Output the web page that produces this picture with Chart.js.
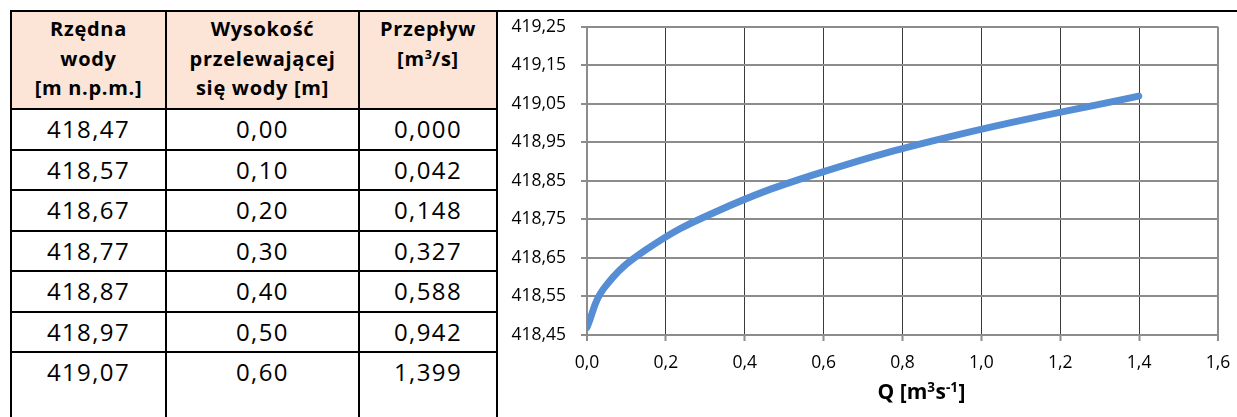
<!DOCTYPE html>
<html lang="pl">
<head>
<meta charset="utf-8">
<title>Krzywa przepływu przelewu</title>
<script src="https://cdn.jsdelivr.net/npm/chart.js@4.4.1/dist/chart.umd.min.js"></script>
<style>
  html, body { margin: 0; padding: 0; background: #fff; }
  body {
    width: 1237px; height: 417px; overflow: hidden; position: relative;
    font-family: "Open Sans", "Noto Sans", sans-serif; color: #000;
  }
  #frameTop { position: absolute; left: 10px; top: 10px; width: 1227px; height: 2px; background: #000; }
  #tabela {
    position: absolute; left: 10px; top: 10px;
    display: grid;
    grid-template-columns: 155px 193px 138px;
    grid-template-rows: 98px repeat(6, 40.5px) 80px;
    border-left: 2px solid #000; border-top: 2px solid #000;
  }
  #tabela > div {
    box-sizing: border-box;
    border-right: 2px solid #000; border-bottom: 2px solid #000;
    text-align: center; overflow: hidden;
  }
  #tabela > .nag {
    background: #fce4d6; font-weight: 700; font-size: 20px; line-height: 29.5px;
    padding-top: 2px; letter-spacing: 0.7px;
  }
  #tabela > .nag sup { font-size: 12.5px; line-height: 0; vertical-align: 7px; letter-spacing: 0; }
  #tabela > .war {
    font-size: 24px; line-height: 31px; padding-top: 3px; letter-spacing: 1.4px;
  }
  #wykres { position: absolute; left: 498px; top: 12px; width: 739px; height: 405px; }
  #wykres canvas { display: block; }
</style>
</head>
<body>
<div id="frameTop"></div>
<div id="tabela"></div>
<div id="wykres"><canvas id="krzywa" width="739" height="405"></canvas></div>
<script>
// Pomiary przelewu: rzędna zwierciadła, wysokość warstwy przelewającej się wody, przepływ
const rzedna    = [418.47, 418.57, 418.67, 418.77, 418.87, 418.97, 419.07];
const wysokosc  = [0.00, 0.10, 0.20, 0.30, 0.40, 0.50, 0.60];
const przeplyw  = [0.000, 0.042, 0.148, 0.327, 0.588, 0.942, 1.399];

// Podziałki osi wykresu
const podzialkaY = [418.45, 418.55, 418.65, 418.75, 418.85, 418.95, 419.05, 419.15, 419.25];
const podzialkaX = [0.0, 0.2, 0.4, 0.6, 0.8, 1.0, 1.2, 1.4, 1.6];

// Nagłówki tabeli
const naglowki = [
  'Rzędna<br>wody<br>[m n.p.m.]',
  'Wysokość<br>przelewającej<br>się wody [m]',
  'Przepływ<br>[m<sup>3</sup>/s]'
];

const poPolsku = (v, miejsca) => v.toFixed(miejsca).replace('.', ',');

// Tabela
const tabela = document.getElementById('tabela');
naglowki.forEach(t => {
  const d = document.createElement('div');
  d.className = 'nag';
  d.innerHTML = t;
  tabela.appendChild(d);
});
rzedna.forEach((r, i) => {
  [poPolsku(r, 2), poPolsku(wysokosc[i], 2), poPolsku(przeplyw[i], 3)].forEach(t => {
    const d = document.createElement('div');
    d.className = 'war';
    d.textContent = t;
    tabela.appendChild(d);
  });
});

// Wykres
const SZARY = '#8c8c8c';
const CIEMNY = '#3a3a3a';
const FONT = '"Open Sans", "Noto Sans", sans-serif';
const xMin = podzialkaX[0], xMax = podzialkaX[podzialkaX.length - 1];
const yMin = podzialkaY[0], yMax = podzialkaY[podzialkaY.length - 1];

// Tytuł osi X z indeksami górnymi: Q [m³s⁻¹]
const tytulOsiX = {
  id: 'tytulOsiX',
  afterDraw(chart) {
    const { ctx, chartArea } = chart;
    const czesci = [
      ['Q [m', false], ['3', true], ['s', false], ['-1', true], [']', false]
    ];
    const duzy = 'bold 21px ' + FONT;
    const maly = 'bold 13.5px ' + FONT;
    ctx.save();
    ctx.fillStyle = '#000';
    ctx.textBaseline = 'alphabetic';
    ctx.textAlign = 'left';
    let szer = 0;
    czesci.forEach(([t, sup]) => { ctx.font = sup ? maly : duzy; szer += ctx.measureText(t).width + (sup ? 0.5 : 0); });
    let x = (chartArea.left + chartArea.right) / 2 + 19 - szer / 2;
    const y = chartArea.bottom + 64;
    czesci.forEach(([t, sup]) => {
      ctx.font = sup ? maly : duzy;
      ctx.fillText(t, x, sup ? y - 7.5 : y);
      x += ctx.measureText(t).width + (sup ? 0.5 : 0);
    });
    ctx.restore();
  }
};

new Chart(document.getElementById('krzywa'), {
  type: 'scatter',
  data: {
    datasets: [{
      data: przeplyw.map((q, i) => ({ x: q, y: rzedna[i] })),
      showLine: true,
      borderColor: '#558ed5',
      borderWidth: 7,
      borderCapStyle: 'round',
      borderJoinStyle: 'round',
      tension: 0.42,
      pointRadius: 0,
      fill: false
    }]
  },
  options: {
    responsive: false,
    animation: false,
    devicePixelRatio: 1,
    layout: { padding: { left: 0, right: 19, top: 14.7, bottom: 0 } },
    plugins: { legend: { display: false }, tooltip: { enabled: false } },
    scales: {
      x: {
        type: 'linear', min: xMin, max: xMax,
        afterBuildTicks: s => { s.ticks = podzialkaX.map(v => ({ value: v })); },
        afterFit: s => { s.height = 82; s.paddingLeft = 0; s.paddingRight = 0; },
        ticks: {
          callback: v => poPolsku(v, 1),
          color: '#000', font: { family: FONT, size: 17.5 },
          padding: 12, maxRotation: 0, autoSkip: false
        },
        grid: {
          color: c => (c.tick && (c.tick.value === xMin || c.tick.value === xMax)) ? SZARY : CIEMNY,
          lineWidth: c => (c.tick && (c.tick.value === xMin || c.tick.value === xMax)) ? 2 : 1,
          tickLength: 6, tickColor: SZARY, tickWidth: 2
        },
        border: { color: SZARY, width: 2 }
      },
      y: {
        type: 'linear', min: yMin, max: yMax,
        afterBuildTicks: s => { s.ticks = podzialkaY.map(v => ({ value: v })); },
        afterFit: s => { s.width = 89; s.paddingTop = 0; s.paddingBottom = 0; },
        ticks: {
          callback: v => poPolsku(v, 2),
          color: '#000', font: { family: FONT, size: 17.5 },
          padding: 15, autoSkip: false
        },
        grid: { color: SZARY, lineWidth: 2, tickLength: 6, tickColor: SZARY, tickWidth: 2 },
        border: { color: SZARY, width: 2 }
      }
    }
  },
  plugins: [tytulOsiX]
});
</script>
</body>
</html>
